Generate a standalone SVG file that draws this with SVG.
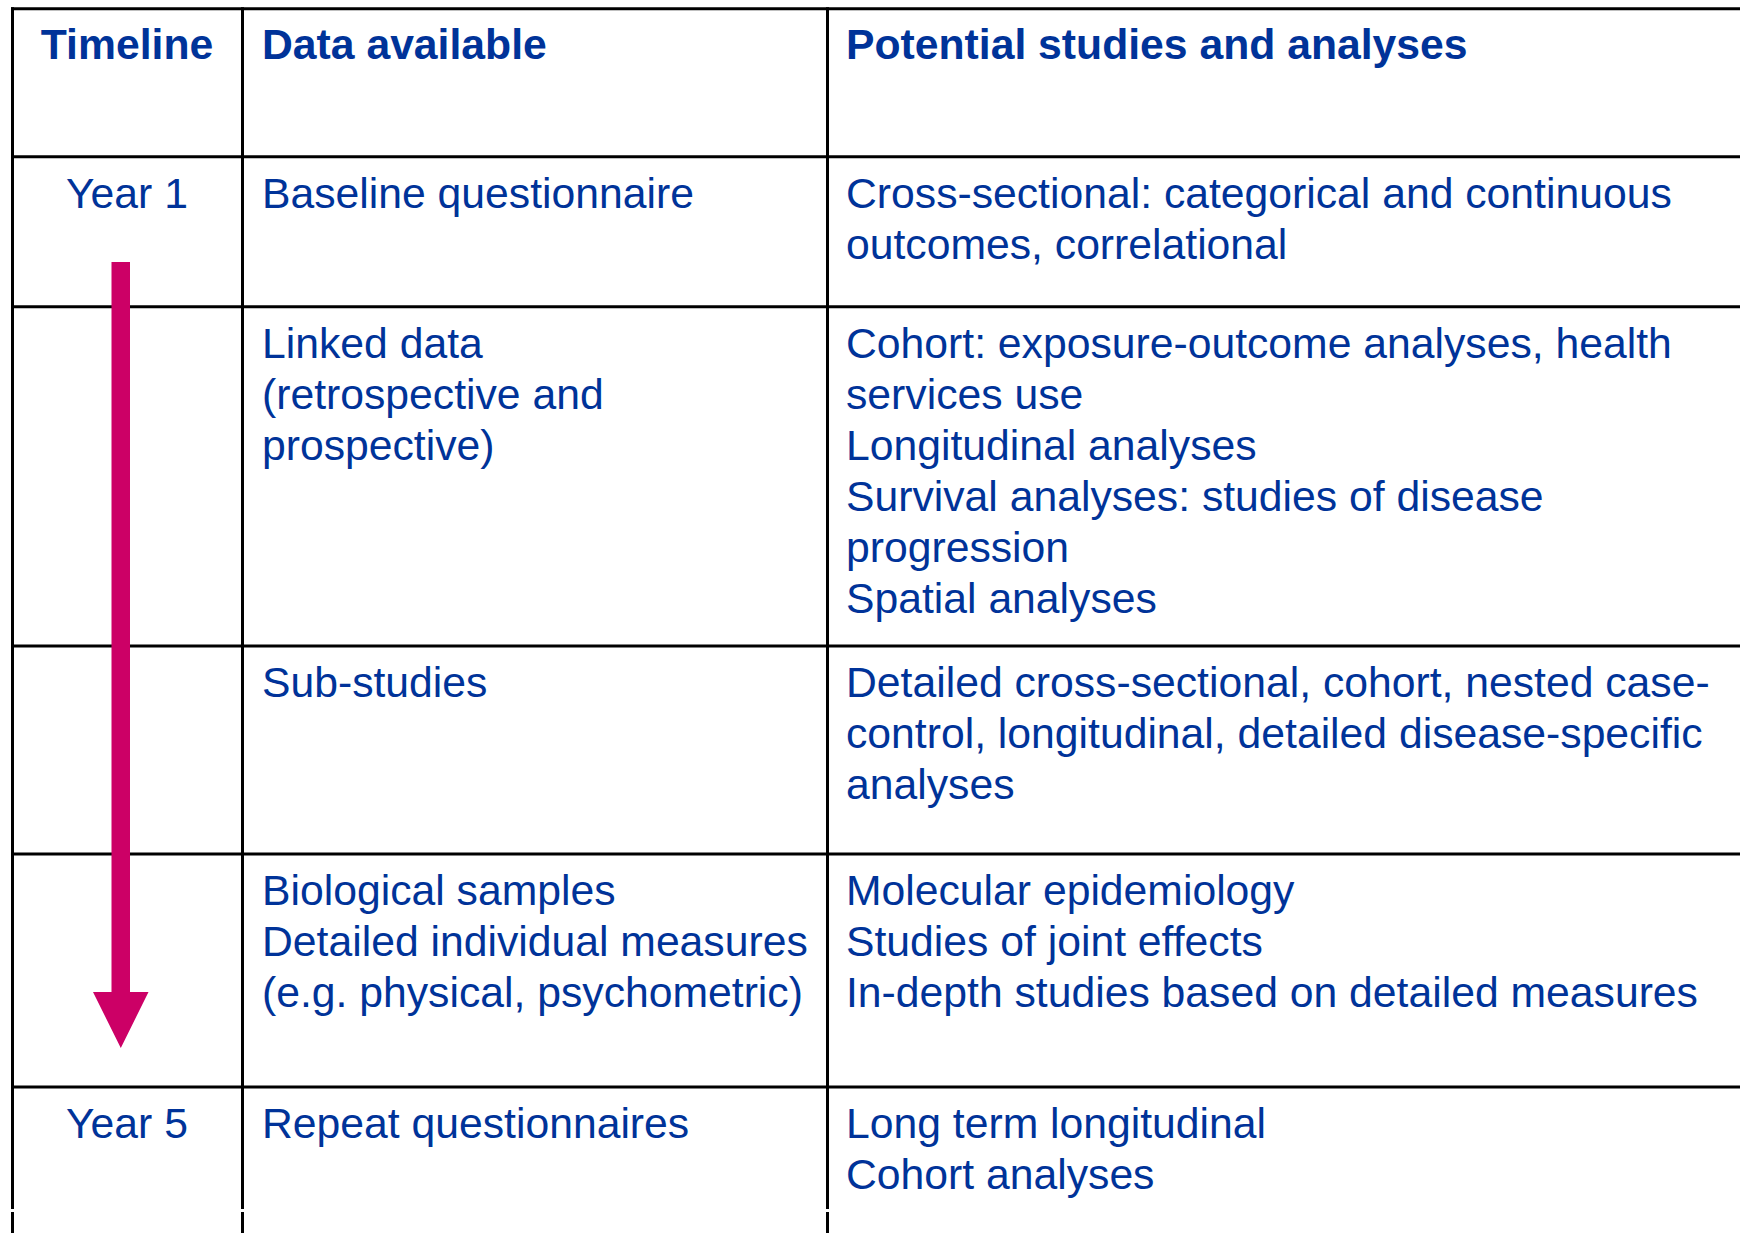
<svg xmlns="http://www.w3.org/2000/svg" width="1740" height="1233" viewBox="0 0 1740 1233">
<style>
.t{font-family:"Liberation Sans",Arial,sans-serif;font-size:42.7px;fill:#003399}
.h{font-weight:bold}
.c{text-anchor:middle}
.g{stroke:#000;stroke-width:3;fill:none}
</style>
<rect width="1740" height="1233" fill="#fff"/>
<g id="grid" class="g">
<line x1="11" y1="8.7" x2="1740" y2="8.7"/>
<line x1="11" y1="156.7" x2="1740" y2="156.7"/>
<line x1="11" y1="306.7" x2="1740" y2="306.7"/>
<line x1="11" y1="646" x2="1740" y2="646"/>
<line x1="11" y1="854" x2="1740" y2="854"/>
<line x1="11" y1="1087" x2="1740" y2="1087"/>
<line x1="12.5" y1="7.2" x2="12.5" y2="1209"/>
<line x1="12.5" y1="1212" x2="12.5" y2="1233"/>
<line x1="242.5" y1="7.2" x2="242.5" y2="1209"/>
<line x1="242.5" y1="1212" x2="242.5" y2="1233"/>
<line x1="827.5" y1="7.2" x2="827.5" y2="1209"/>
<line x1="827.5" y1="1212" x2="827.5" y2="1233"/>
</g>
<g id="header">
<text class="t h c" x="127" y="59">Timeline</text>
<text class="t h" x="262" y="59">Data available</text>
<text class="t h" x="846" y="59">Potential studies and analyses</text>
</g>
<g id="row1">
<text class="t c" x="127" y="208">Year 1</text>
<text class="t" x="262" y="208">Baseline questionnaire</text>
<text class="t" x="846" y="208">Cross-sectional: categorical and continuous</text>
<text class="t" x="846" y="259">outcomes, correlational</text>
</g>
<g id="row2">
<text class="t" x="262" y="358">Linked data</text>
<text class="t" x="262" y="409">(retrospective and</text>
<text class="t" x="262" y="460">prospective)</text>
<text class="t" x="846" y="358">Cohort: exposure-outcome analyses, health</text>
<text class="t" x="846" y="409">services use</text>
<text class="t" x="846" y="460">Longitudinal analyses</text>
<text class="t" x="846" y="511">Survival analyses: studies of disease</text>
<text class="t" x="846" y="562">progression</text>
<text class="t" x="846" y="613">Spatial analyses</text>
</g>
<g id="row3">
<text class="t" x="262" y="697">Sub-studies</text>
<text class="t" x="846" y="697">Detailed cross-sectional, cohort, nested case-</text>
<text class="t" x="846" y="748">control, longitudinal, detailed disease-specific</text>
<text class="t" x="846" y="799">analyses</text>
</g>
<g id="row4">
<text class="t" x="262" y="905">Biological samples</text>
<text class="t" x="262" y="956">Detailed individual measures</text>
<text class="t" x="262" y="1007">(e.g. physical, psychometric)</text>
<text class="t" x="846" y="905">Molecular epidemiology</text>
<text class="t" x="846" y="956">Studies of joint effects</text>
<text class="t" x="846" y="1007">In-depth studies based on detailed measures</text>
</g>
<g id="row5">
<text class="t c" x="127" y="1138">Year 5</text>
<text class="t" x="262" y="1138">Repeat questionnaires</text>
<text class="t" x="846" y="1138">Long term longitudinal</text>
<text class="t" x="846" y="1189">Cohort analyses</text>
</g>
<g id="connectors">
<path d="M111.5,262 H130 V992 H148.5 L120.8,1048 L93,992 H111.5 Z" fill="#CC0066"/>
</g>
</svg>
